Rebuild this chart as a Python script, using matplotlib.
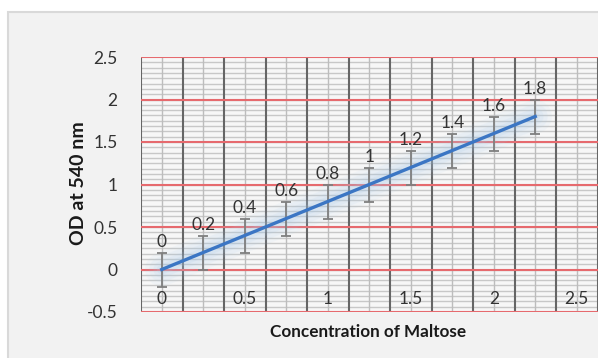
import matplotlib
matplotlib.use('Agg')
from matplotlib import pyplot as plt
from matplotlib.patches import Rectangle
import numpy as np

plt.rcParams['font.family'] = ['Lato', 'DejaVu Sans']

# data
conc = [0, 0.25, 0.5, 0.75, 1.0, 1.25, 1.5, 1.75, 2.0, 2.25]
od = [0, 0.2, 0.4, 0.6, 0.8, 1.0, 1.2, 1.4, 1.6, 1.8]
od_err = [0.2] * 10
od_labels = ['0', '0.2', '0.4', '0.6', '0.8', '1', '1.2', '1.4', '1.6', '1.8']
x_ticks = [0, 0.5, 1.0, 1.5, 2.0, 2.5]
x_tick_labels = ['0', '0.5', '1', '1.5', '2', '2.5']
y_ticks = [-0.5, 0, 0.5, 1, 1.5, 2, 2.5]
y_tick_labels = ['-0.5', '0', '0.5', '1', '1.5', '2', '2.5']

fig = plt.figure(figsize=(5.98, 3.58), dpi=100)
fig.patch.set_facecolor('white')
# chart area box
fig.patches.append(Rectangle((8 / 598, -0.01), 1.0, 1 - 12 / 358 + 0.01,
                             transform=fig.transFigure, facecolor='#f2f2f2',
                             edgecolor='#d9d9d9', lw=1.5, zorder=-5))

ax = fig.add_axes([141 / 598, 1 - 312 / 358, 456.5 / 598, 255 / 358])
ax.set_zorder(1)
ax.set_facecolor('#f7f7f7')
xmin, xmax = -0.125, 2.625
ax.set_xlim(xmin, xmax)
ax.set_ylim(-0.5, 2.5)
for s in ax.spines.values():
    s.set_visible(False)

# minor horizontal grid
for yv in np.arange(-0.5, 2.5, 0.0625):
    ax.axhline(yv, color='#c8c8c8', lw=1, zorder=1)
# vertical grid: light at category centres, dark at boundaries
for xv in np.arange(0, 2.6, 0.25):
    ax.axvline(xv, color='#bdbdbd', lw=1, zorder=2)
for xv in np.arange(-0.125, 2.7, 0.25):
    ax.axvline(xv, color='#666666', lw=1.5, zorder=2)
# major horizontal (red)
for yv in y_ticks:
    ax.axhline(yv, color='#e66a6e', lw=1.5, zorder=3)

ax.set_yticks(y_ticks)
ax.set_yticklabels(y_tick_labels, fontsize=12.5, color='#333333')
ax.tick_params(axis='y', length=0, pad=17)
ax.set_xticks([])

# x tick labels sit inside the plot area
for xv, lab in zip(x_ticks, x_tick_labels):
    ax.text(xv, -0.35, lab, ha='center', va='center', fontsize=12.5,
            color='#333333', zorder=6)

# glow under the line
for lw, a in [(24, 0.08), (18, 0.1), (12, 0.12), (7, 0.16)]:
    ax.plot(conc, od, color='#a9cbeb', lw=lw, alpha=a, solid_capstyle='round', zorder=4)
ax.errorbar(conc, od, yerr=od_err, fmt='none', ecolor='#7f7f7f', elinewidth=1.3,
            capsize=3.5, capthick=1.3, zorder=5)
ax.plot(conc, od, color='#3b76c4', lw=2.4, zorder=6)

for xv, yv, e, lab in zip(conc, od, od_err, od_labels):
    ax.annotate(lab, (xv, yv + e), xytext=(0, 2), textcoords='offset points',
                ha='center', va='bottom', fontsize=12.5, color='#333333', zorder=7)

fig.text(79 / 598, 1 - 183 / 358, 'OD at 540 nm', rotation=90, ha='center',
         va='center', fontsize=14, fontweight='bold', color='#1a1a1a')
fig.text(368 / 598, 1 - 332 / 358, 'Concentration of Maltose', ha='center',
         va='center', fontsize=12.3, fontweight='bold', color='#1a1a1a')

fig.savefig('out.png', dpi=100)
